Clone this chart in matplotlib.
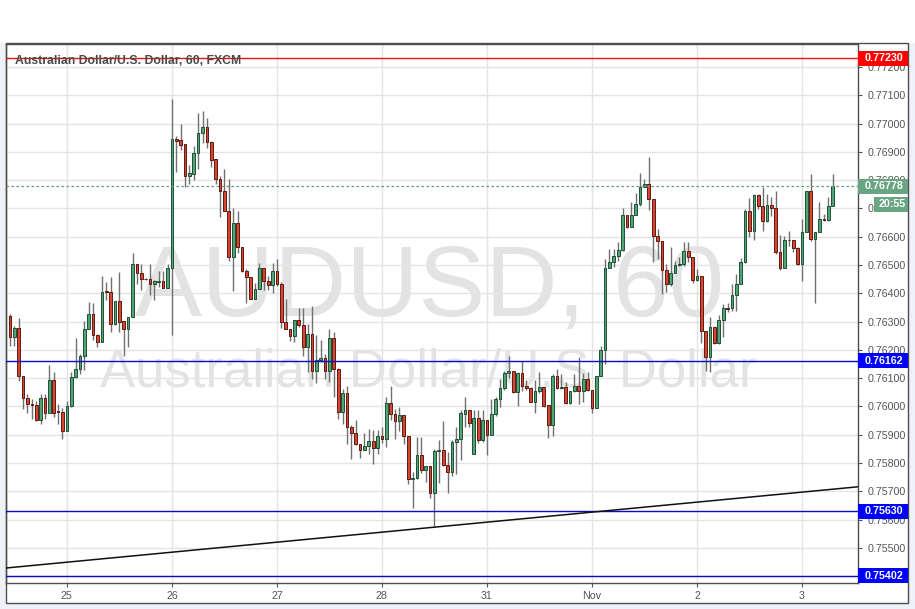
import matplotlib
matplotlib.use('Agg')
import matplotlib.pyplot as plt
import matplotlib.transforms as mtransforms
from matplotlib.patches import Rectangle
import numpy as np

plt.rcParams['font.family'] = ['Liberation Sans', 'DejaVu Sans']

# ---------------- data (AUD/USD, 60 min, FXCM) ----------------
opens = [
    .76319, .76246, .76279, .76107, .76031, .76008, .76005, .75953, .76031, .75976,
    .76092, .75983, .75981, .75914, .76000, .76103, .76131, .76179, .76273, .76326,
    .76251, .76228, .76408, .76406, .76293, .76371, .76301, .76272, .76316, .76502,
    .76470, .76452, .76452, .76434, .76440, .76443, .76417, .76491, .76946, .76940,
    .76926, .76814, .76820, .76896, .76967, .76988, .76935, .76873, .76805, .76761,
    .76691, .76529, .76649, .76565, .76479, .76459, .76381, .76416, .76491, .76444,
    .76429, .76479, .76434, .76300, .76275, .76249, .76306, .76289, .76209, .76256,
    .76125, .76165, .76172, .76125, .76242, .76133, .75980, .76048, .75927, .75906,
    .75866, .75847, .75859, .75878, .75854, .75894, .75886, .76013, .75974, .75948,
    .75968, .75896, .75744, .75748, .75827, .75776, .75788, .75693, .75841, .75845,
    .75794, .75770, .75876, .75884, .75974, .75986, .75833, .75960, .75882, .75951,
    .75900, .75972, .76027, .76066, .76119, .76124, .76051, .76119, .76074, .76066,
    .76015, .76053, .76068, .76004, .75935, .76106, .76066, .76069, .76013, .76056,
    .76074, .76056, .76098, .76059, .75994, .76109, .76200, .76489, .76512, .76531,
    .76553, .76678, .76635, .76678, .76715, .76776, .76786, .76733, .76601, .76586,
    .76482, .76433, .76472, .76500, .76504, .76551, .76529, .76447, .76462, .76266,
    .76174, .76282, .76224, .76306, .76348, .76347, .76394, .76433, .76509, .76692,
    .76619, .76747, .76707, .76654, .76712, .76700, .76545, .76488, .76590, .76589,
    .76559, .76502, .76615, .76762, .76592, .76615, .76662, .76660, .76709,
]
highs = [
    .76325, .76283, .76314, .76107, .76043, .76025, .76019, .76043, .76045, .76145,
    .76122, .76009, .75993, .76021, .76122, .76243, .76187, .76301, .76370, .76364,
    .76255, .76460, .76440, .76458, .76371, .76476, .76301, .76316, .76543, .76505,
    .76503, .76455, .76503, .76446, .76479, .76479, .76503, .77085, .76955, .77000,
    .76926, .76855, .76920, .77038, .77044, .77020, .76938, .76875, .76816, .76838,
    .76805, .76702, .76691, .76565, .76485, .76459, .76435, .76506, .76491, .76461,
    .76508, .76520, .76440, .76381, .76275, .76306, .76348, .76348, .76292, .76356,
    .76251, .76235, .76186, .76274, .76262, .76136, .76060, .76071, .75933, .75951,
    .75868, .75906, .75921, .75915, .75915, .75927, .76035, .76074, .75992, .75998,
    .75968, .75896, .75768, .75892, .75892, .75788, .75788, .75849, .75880, .75947,
    .75839, .75880, .75927, .75986, .76035, .75988, .75986, .75986, .75986, .75951,
    .76027, .76033, .76098, .76127, .76180, .76124, .76121, .76160, .76092, .76068,
    .76092, .76121, .76068, .76004, .76115, .76133, .76115, .76086, .76056, .76115,
    .76176, .76118, .76121, .76059, .76109, .76215, .76521, .76556, .76556, .76580,
    .76701, .76678, .76721, .76753, .76824, .76804, .76880, .76733, .76627, .76586,
    .76504, .76562, .76515, .76529, .76580, .76580, .76529, .76486, .76462, .76266,
    .76315, .76282, .76324, .76362, .76365, .76433, .76468, .76524, .76698, .76736,
    .76751, .76751, .76774, .76751, .76742, .76762, .76607, .76604, .76621, .76589,
    .76562, .76662, .76762, .76821, .76615, .76724, .76680, .76742, .76821,
]
lows = [
    .76214, .76214, .76089, .75992, .75978, .75956, .75950, .75939, .75956, .75976,
    .75962, .75939, .75885, .75914, .75998, .76102, .76116, .76128, .76272, .76234,
    .76210, .76228, .76375, .76263, .76287, .76263, .76177, .76210, .76316, .76434,
    .76411, .76448, .76393, .76375, .76423, .76417, .76417, .76253, .76828, .76908,
    .76776, .76785, .76802, .76838, .76932, .76914, .76847, .76785, .76671, .76691,
    .76514, .76408, .76544, .76475, .76367, .76379, .76381, .76414, .76411, .76411,
    .76400, .76426, .76279, .76275, .76232, .76227, .76282, .76180, .76121, .76098,
    .76082, .76156, .76098, .76086, .76035, .75956, .75939, .75868, .75815, .75862,
    .75819, .75845, .75833, .75798, .75833, .75871, .75856, .75953, .75886, .75913,
    .75868, .75727, .75642, .75745, .75765, .75733, .75676, .75573, .75731, .75790,
    .75693, .75754, .75760, .75809, .75929, .75929, .75833, .75871, .75874, .75829,
    .75898, .75965, .75998, .76059, .76101, .76047, .76000, .76056, .76059, .76015,
    .75976, .76047, .75998, .75889, .75894, .76062, .76062, .76009, .76009, .76051,
    .76009, .76015, .76056, .75976, .75994, .76109, .76151, .76489, .76494, .76515,
    .76551, .76631, .76635, .76676, .76709, .76774, .76694, .76509, .76521, .76398,
    .76404, .76427, .76471, .76498, .76498, .76509, .76435, .76445, .76224, .76127,
    .76121, .76221, .76221, .76247, .76335, .76339, .76339, .76431, .76507, .76598,
    .76588, .76698, .76619, .76653, .76672, .76539, .76484, .76488, .76568, .76547,
    .76501, .76445, .76615, .76586, .76366, .76615, .76656, .76656, .76709,
]
closes = [
    .76246, .76279, .76107, .76031, .76008, .76005, .75953, .76031, .75976, .76092,
    .75976, .75981, .75914, .76000, .76103, .76131, .76179, .76273, .76326, .76251,
    .76228, .76406, .76404, .76293, .76371, .76299, .76272, .76316, .76502, .76470,
    .76452, .76450, .76434, .76443, .76442, .76417, .76491, .76946, .76938, .76924,
    .76814, .76824, .76896, .76967, .76988, .76935, .76871, .76805, .76761, .76691,
    .76529, .76649, .76565, .76479, .76459, .76381, .76416, .76491, .76444, .76429,
    .76479, .76434, .76300, .76275, .76249, .76306, .76289, .76209, .76256, .76125,
    .76165, .76172, .76125, .76242, .76133, .75980, .76048, .75927, .75906, .75866,
    .75847, .75859, .75878, .75854, .75894, .75886, .76013, .75974, .75948, .75968,
    .75896, .75745, .75748, .75827, .75776, .75788, .75693, .75843, .75845, .75794,
    .75770, .75876, .75884, .75976, .75986, .75941, .75960, .75882, .75951, .75900,
    .75972, .76027, .76066, .76119, .76124, .76051, .76119, .76072, .76066, .76015,
    .76053, .76068, .76001, .75935, .76106, .76066, .76069, .76012, .76056, .76074,
    .76056, .76098, .76059, .75994, .76109, .76200, .76489, .76512, .76533, .76554,
    .76678, .76635, .76678, .76715, .76776, .76786, .76733, .76601, .76584, .76482,
    .76433, .76472, .76500, .76504, .76551, .76527, .76447, .76462, .76266, .76174,
    .76282, .76224, .76306, .76348, .76346, .76394, .76433, .76509, .76692, .76619,
    .76747, .76707, .76654, .76712, .76700, .76545, .76488, .76589, .76589, .76559,
    .76502, .76615, .76762, .76592, .76615, .76662, .76660, .76709, .76778,
]

day_labels = ['25', '26', '27', '28', '31', 'Nov', '2', '3']
day_bar_index = [13, 37, 61, 85, 109, 133, 157, 181]

resistance_level = 0.77230
support_levels = [0.76162, 0.75630, 0.75402]
last_price = 0.76778
countdown = '20:55'
trend_x = [-0.91, 193.8]
trend_y = [0.75429, 0.75716]

title = 'Australian Dollar/U.S. Dollar, 60, FXCM'
watermark1 = 'AUDUSD, 60'
watermark2 = 'Australian Dollar/U.S. Dollar'

# ---------------- figure ----------------
W, H = 915, 609
fig = plt.figure(figsize=(W / 100, H / 100), dpi=100)
fig.patch.set_facecolor('#eef2f7')


def fx(px):
    return px / W


def fy(py):
    return 1 - py / H


fig.patches.append(Rectangle((0, fy(43)), 1, 1 - fy(43), transform=fig.transFigure,
                             fc='white', ec='none', zorder=-2))
fig.patches.append(Rectangle((fx(6), fy(603)), fx(908) - fx(6), fy(43) - fy(603),
                             transform=fig.transFigure, fc='white', ec='#4d4d4d',
                             lw=1, zorder=-1))

fig.text(fx(430), fy(315.7), watermark1, ha='center', va='baseline', fontsize=72,
         color='#e3e3e3', zorder=-0.5)
fig.text(fx(428), fy(386.7), watermark2, ha='center', va='baseline', fontsize=38,
         color='#e3e3e3', zorder=-0.5)

ax = fig.add_axes([fx(6), fy(583), fx(858) - fx(6), fy(44) - fy(583)])
ax.patch.set_alpha(0)
ymin, ymax = 0.75376, 0.77281
ax.set_xlim(-0.91, 193.8)
ax.set_ylim(ymin, ymax)

for s in ax.spines.values():
    s.set_color('#4d4d4d')
    s.set_linewidth(1)

ax.set_axisbelow(True)
ax.grid(True, color='#e4e4e4', lw=1)

ax.yaxis.tick_right()
yt = np.round(np.arange(0.754, 0.7725, 0.001), 3)
ax.set_yticks(yt)
ax.set_yticklabels([f'{v:.5f}' for v in yt])
ax.tick_params(axis='y', direction='out', length=3, color='#555555', labelsize=7.7,
               labelcolor='#555555', pad=4)
ax.set_xticks(day_bar_index)
ax.set_xticklabels(day_labels)
ax.tick_params(axis='x', direction='out', length=3, color='#555555', labelsize=7.7,
               labelcolor='#555555', pad=3)

# candles
o = np.array(opens)
h = np.array(highs)
l = np.array(lows)
c = np.array(closes)
x = np.arange(len(o))
up = c >= o
ax.vlines(x, l, h, color='#707070', lw=1, zorder=3)
bottom = np.minimum(o, c)
height = np.maximum(np.abs(c - o), 0.00001)
ax.bar(x[up], height[up], bottom=bottom[up], width=0.62, color='#53a378',
       edgecolor='#1e5234', linewidth=0.7, zorder=4)
ax.bar(x[~up], height[~up], bottom=bottom[~up], width=0.62, color='#d9452f',
       edgecolor='#5b1a13', linewidth=0.7, zorder=4)

# lines
ax.axhline(resistance_level, color='#ee1111', lw=1, zorder=5)
for lv in support_levels:
    ax.axhline(lv, color='#0a0ac8', lw=1, zorder=5)
ax.axhline(last_price, color='#5e9e78', lw=0.9, ls=(0, (2, 2)), zorder=5)
ax.plot(trend_x, trend_y, color='#111111', lw=1.1, zorder=5)

# price labels on the axis
bt = mtransforms.blended_transform_factory(ax.transAxes, ax.transData)
axw = 858 - 6
ppu = (583 - 44) / (ymax - ymin)


def price_box(val, text, color, x0_px=858, x1_px=908, dy_px=0.0):
    y = val - dy_px / ppu
    hh = 7.5 / ppu
    ax.add_patch(Rectangle((1 + (x0_px - 858) / axw, y - hh), (x1_px - x0_px) / axw,
                           2 * hh, transform=bt, fc=color, ec='none', clip_on=False,
                           zorder=6))
    ax.text(1 + ((x0_px + x1_px) / 2 + 1 - 858) / axw, y, text, transform=bt,
            ha='center', va='center', color='white', fontsize=7.7, fontweight='bold',
            clip_on=False, zorder=7)


price_box(resistance_level, f'{resistance_level:.5f}', '#ff0000')
for lv in support_levels:
    price_box(lv, f'{lv:.5f}', '#0000ff')
price_box(last_price, f'{last_price:.5f}', '#6aa583')
price_box(last_price, countdown, '#6aa583', x0_px=874, dy_px=18)

fig.text(fx(15), fy(64.3), title, ha='left', va='baseline', fontsize=8.8,
         fontweight='bold', color='#4a4a4a', zorder=10)

fig.savefig('out.png', dpi=100, facecolor=fig.get_facecolor())
